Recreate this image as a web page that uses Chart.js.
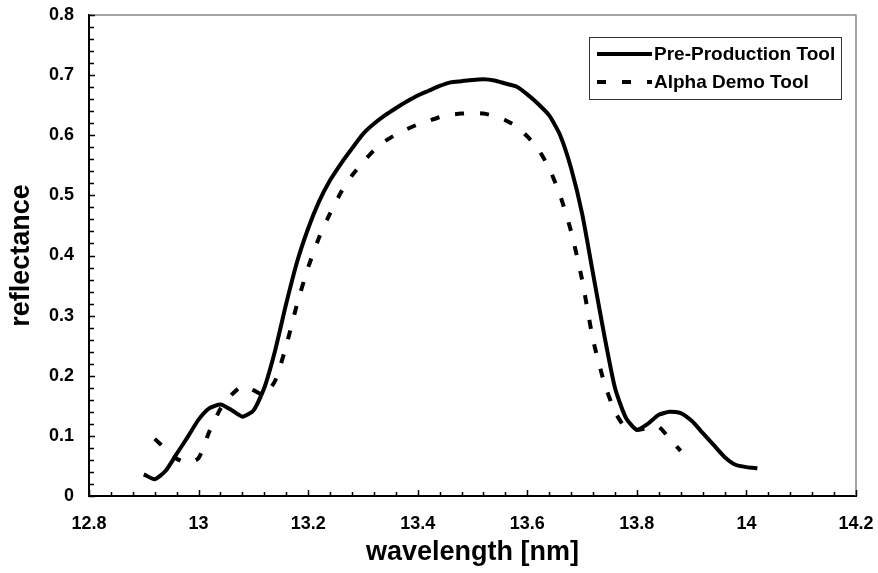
<!DOCTYPE html>
<html>
<head>
<meta charset="utf-8">
<script src="https://cdn.jsdelivr.net/npm/chart.js@4/dist/chart.umd.min.js"></script>
<style>
	body { margin: 0; background: #fff; }
	#wrap { width: 878px; height: 573px; }
</style>
</head>
<body>
<div id="wrap"><canvas id="chart" width="878" height="573"></canvas></div>
<script>
// wavelength [nm] and reflectance
const preWavelength = [12.90, 12.92, 12.94, 12.96, 12.98, 13.00, 13.02, 13.04, 13.06, 13.08,
	13.10, 13.12, 13.14, 13.16, 13.18, 13.20, 13.22, 13.24, 13.26, 13.28,
	13.30, 13.32, 13.34, 13.36, 13.38, 13.40, 13.42, 13.44, 13.46, 13.48,
	13.50, 13.52, 13.54, 13.56, 13.58, 13.60, 13.62, 13.64, 13.66, 13.68,
	13.70, 13.72, 13.74, 13.76, 13.78, 13.80, 13.82, 13.84, 13.86, 13.88,
	13.90, 13.92, 13.94, 13.96, 13.98, 14.00, 14.02];
const preReflectance = [0.036, 0.028, 0.042, 0.070, 0.098, 0.127, 0.146, 0.152, 0.143, 0.132,
	0.142, 0.180, 0.243, 0.320, 0.390, 0.445, 0.490, 0.525, 0.553, 0.578,
	0.602, 0.619, 0.633, 0.645, 0.656, 0.666, 0.674, 0.682, 0.688, 0.690,
	0.692, 0.693, 0.691, 0.686, 0.681, 0.668, 0.652, 0.633, 0.600, 0.545,
	0.470, 0.370, 0.270, 0.180, 0.130, 0.110, 0.120, 0.135, 0.140, 0.138,
	0.125, 0.105, 0.085, 0.065, 0.052, 0.048, 0.046];

const alphaWavelength = [12.92, 12.94, 12.96, 12.98, 13.00, 13.02, 13.04, 13.06, 13.08,
	13.10, 13.12, 13.14, 13.16, 13.18, 13.20, 13.22, 13.24, 13.26, 13.28,
	13.30, 13.32, 13.34, 13.36, 13.38, 13.40, 13.42, 13.44, 13.46, 13.48,
	13.50, 13.52, 13.54, 13.56, 13.58, 13.60, 13.62, 13.64, 13.66, 13.68,
	13.70, 13.72, 13.74, 13.76, 13.78, 13.80, 13.82, 13.84, 13.86, 13.88];
const alphaReflectance = [0.095, 0.078, 0.062, 0.055, 0.063, 0.108, 0.145, 0.168, 0.183,
	0.176, 0.168, 0.192, 0.250, 0.320, 0.380, 0.430, 0.470, 0.505, 0.533,
	0.555, 0.575, 0.590, 0.601, 0.610, 0.618, 0.624, 0.630, 0.634, 0.636,
	0.637, 0.636, 0.632, 0.625, 0.615, 0.598, 0.577, 0.545, 0.500, 0.440,
	0.360, 0.260, 0.190, 0.140, 0.113, 0.110, 0.113, 0.115, 0.095, 0.075];

const seriesNames = ['Pre-Production Tool', 'Alpha Demo Tool'];

const FONT = '"Liberation Sans", Arial, sans-serif';
const DASH = [9, 16];

function toPoints(xs, ys) {
	var pts = [];
	for (let i = 0; i < xs.length; i++) {
		pts.push({x: xs[i], y: ys[i]});
	}
	return pts;
}

// inward tick marks + grey top/right frame, excel style
const frameTicks = {
	id: 'frameTicks',
	afterDraw(chart) {
		const {ctx, chartArea: {left, right, top, bottom}, scales: {x, y}} = chart;
		ctx.save();
		ctx.strokeStyle = '#888';
		ctx.lineWidth = 1.5;
		ctx.beginPath();
		ctx.moveTo(left, top);
		ctx.lineTo(right, top);
		ctx.lineTo(right, bottom);
		ctx.stroke();

		ctx.strokeStyle = '#000';
		ctx.lineWidth = 1.5;
		ctx.beginPath();
		for (let i = 0; i <= 40; i++) {
			const py = Math.round(y.getPixelForValue(i * 0.02)) + 0.5;
			const len = (i % 5 === 0) ? 6 : 5;
			ctx.moveTo(left, py);
			ctx.lineTo(left + len, py);
		}
		for (let i = 0; i <= 35; i++) {
			const px = Math.round(x.getPixelForValue(12.8 + i * 0.04)) + 0.5;
			const len = (i % 5 === 0) ? 6 : 4;
			ctx.moveTo(px, bottom);
			ctx.lineTo(px, bottom - len);
		}
		ctx.stroke();
		ctx.restore();
	}
};

// legend box in the top right corner
const boxLegend = {
	id: 'boxLegend',
	afterDraw(chart) {
		const {ctx} = chart;
		const bx = 589, by = 37, bw = 252, bh = 62;
		ctx.save();
		ctx.fillStyle = '#fff';
		ctx.fillRect(bx, by, bw, bh);
		ctx.strokeStyle = '#333';
		ctx.lineWidth = 1;
		ctx.strokeRect(bx + 0.5, by + 0.5, bw, bh);

		ctx.font = 'bold 19px ' + FONT;
		ctx.textBaseline = 'middle';
		ctx.fillStyle = '#000';
		const rows = [54, 82];
		chart.data.datasets.forEach((ds, i) => {
			ctx.strokeStyle = '#000';
			ctx.lineWidth = 4;
			ctx.setLineDash(ds.borderDash || []);
			ctx.beginPath();
			ctx.moveTo(597, rows[i]);
			ctx.lineTo(652, rows[i]);
			ctx.stroke();
			ctx.setLineDash([]);
			ctx.fillText(ds.label, 654, rows[i] + 1);
		});
		ctx.restore();
	}
};

var chart = new Chart(document.getElementById('chart'), {
	type: 'line',
	data: {
		datasets: [
			{
				label: seriesNames[0],
				data: toPoints(preWavelength, preReflectance),
				borderColor: '#000',
				borderWidth: 4,
				pointRadius: 0,
				tension: 0.2,
			},
			{
				label: seriesNames[1],
				data: toPoints(alphaWavelength, alphaReflectance),
				borderColor: '#000',
				borderWidth: 4,
				borderDash: DASH,
				pointRadius: 0,
				tension: 0.2,
			},
		],
	},
	options: {
		responsive: false,
		animation: false,
		layout: {
			padding: {top: 15, right: 22, left: 0, bottom: 0},
		},
		scales: {
			x: {
				type: 'linear',
				min: 12.8,
				max: 14.2,
				afterFit(scale) {
					scale.height = 77;
					scale.paddingLeft = 0;
					scale.paddingRight = 0;
				},
				grid: {display: false, drawTicks: false},
				border: {display: true, color: '#000', width: 2},
				ticks: {
					stepSize: 0.2,
					padding: 17,
					maxRotation: 0,
					color: '#000',
					font: {family: FONT, size: 18, weight: 'bold'},
					callback: (v) => String(+v.toFixed(1)),
				},
				title: {
					display: true,
					text: 'wavelength [nm]',
					color: '#000',
					padding: {top: 0, bottom: 4},
					font: {family: FONT, size: 27, weight: 'bold'},
				},
			},
			y: {
				min: 0,
				max: 0.8,
				afterFit(scale) {
					scale.width = 89;
					scale.paddingTop = 0;
					scale.paddingBottom = 0;
				},
				grid: {display: false, drawTicks: false},
				border: {display: true, color: '#000', width: 2},
				ticks: {
					stepSize: 0.1,
					padding: 15,
					color: '#000',
					font: {family: FONT, size: 18, weight: 'bold'},
					callback: (v) => String(+v.toFixed(1)),
				},
				title: {
					display: true,
					text: 'reflectance',
					color: '#000',
					padding: {top: 5, bottom: 0},
					font: {family: FONT, size: 27, weight: 'bold'},
				},
			},
		},
		plugins: {
			legend: {display: false},
			tooltip: {enabled: false},
		},
	},
	plugins: [frameTicks, boxLegend],
});
</script>
</body>
</html>
